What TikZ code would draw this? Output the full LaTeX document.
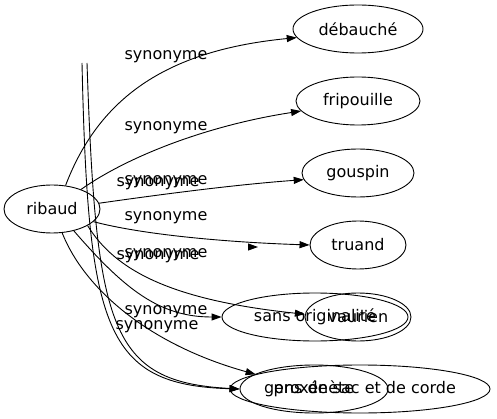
\documentclass[tikz,border=0pt]{standalone}
\usepackage{fontspec}
\setmainfont{DejaVu Sans}
\usetikzlibrary{shapes.geometric,arrows.meta}
\tikzset{
  word/.style={draw,ellipse,inner sep=0pt,minimum height=48pt},
  syn/.style={inner sep=0pt}
}
\begin{document}
\begin{tikzpicture}[x=1pt,y=-1pt,line width=0.9pt,font=\fontsize{16pt}{19pt}\selectfont,
    >={Triangle[length=10pt,width=7pt]}]
      \useasboundingbox (0,0) rectangle (497,419);
      \draw
        (52,209) node[word,minimum width=96pt] (ribaud){ribaud}
        (358,29) node[word,minimum width=130pt] (debauche){débauché}
        (358,101) node[word,minimum width=124pt] (fripouille){fripouille}
        (358,173) node[word,minimum width=112pt] (gouspin){gouspin}
        (358,245) node[word,minimum width=96pt] (truand){truand}
        (315,317) node[word,minimum width=186pt] (sansorig){sans originalité}
        (358,317) node[word,minimum width=106pt] (vaurien){vaurien}
        (360,389) node[word,minimum width=260pt,inner xsep=-4pt] (gens){gens de sac et de corde}
        (314,389) node[word,minimum width=148pt] (proxenete){proxénète};
      \draw
        (166,57) node[syn] (s1){synonyme}
        (166,128) node[syn] (s2){synonyme}
        (158,184) node[syn] (s3){synonyme}
        (166,182) node[syn] (s4){synonyme}
        (166,218) node[syn] (s5){synonyme}
        (158,257) node[syn] (s6){synonyme}
        (166,255) node[syn] (s7){synonyme}
        (166,312) node[syn] (s8){synonyme}
        (157,327) node[syn] (s9){synonyme};
      \coordinate (top1) at (82,63);
      \coordinate (top2) at (87,63);
      \coordinate (stray1) at (248,247);
      \coordinate (stray2) at (258,247);
      \begin{scope}[->]
        \draw (ribaud.60) .. controls (100,95) and (170,50) .. (debauche.188);
        \draw (ribaud.34) .. controls (130,155) and (210,125) .. (fripouille.190);
        \draw (ribaud.7) .. controls (150,196) and (230,185) .. (gouspin.187);
        \draw (ribaud.-17) .. controls (140,234) and (220,242) .. (truand.west);
        \draw (stray1) -- (stray2);
        \draw (ribaud.-25) .. controls (115,270) and (170,300) .. (vaurien.177);
        \draw (ribaud.-45) .. controls (125,290) and (160,317) .. (sansorig.west);
        \draw (ribaud.-67) .. controls (85,290) and (150,345) .. (gens.172);
        \draw (top1) .. controls (88,330) and (105,385) .. (proxenete.west);
        \draw (top2) .. controls (96,330) and (110,382) .. (proxenete.west);
      \end{scope}
    \end{tikzpicture}
\end{document}
